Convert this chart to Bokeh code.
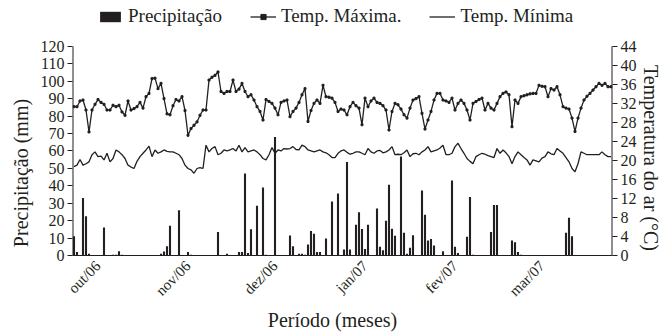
from math import pi
from bokeh.plotting import figure
from bokeh.models import Range1d, LinearAxis, FixedTicker, Legend, LegendItem
from bokeh.embed import file_html
from bokeh.resources import INLINE

# Daily series (day index 0..179)
precip = [
    11, 2, 0, 33, 22.5, 1, 0, 0, 0, 0,
    16, 0, 0, 0.5, 0.5, 2.5, 0.5, 0, 0, 0,
    0, 0, 0, 0, 0, 0, 0, 0, 0, 1,
    2.3, 5.3, 17, 0, 0, 26, 0, 0, 2, 0.5,
    0, 0, 0, 0, 0, 0, 0, 0, 13.5, 0,
    0, 1, 0, 0, 0, 2, 2, 47, 1.5, 15,
    0, 28.5, 0, 39, 0.5, 0.3, 0, 68, 0, 0,
    0, 0, 11.5, 5.3, 0, 1, 1, 0.5, 6.3, 14,
    12.5, 2, 2, 0, 9.7, 0, 31, 0, 35.5, 0,
    3.4, 53.7, 3.4, 0, 17.7, 24.8, 15.2, 3.8, 17.7, 0,
    0, 26.9, 5, 3, 20, 40.6, 15.4, 11.4, 0, 56.8,
    13, 1, 4.4, 11.6, 0, 0, 37.3, 23.4, 8.6, 9.5,
    5.7, 0, 0, 2.5, 0, 0, 43, 5, 1.5, 0,
    0, 10.7, 33.5, 0.5, 0, 0, 0, 0, 0, 13.5,
    29, 29, 0, 0, 0, 0, 8.6, 7.6, 2, 0.5,
    0, 0, 0, 0, 0.3, 0, 0, 0, 0, 0,
    0, 0, 0, 0, 13, 21.7, 11, 0, 0, 0,
    0, 0, 0.3, 0, 0, 0, 0, 0, 0, 0,
]

tmax = [
    31.3, 31.3, 32.5, 32.7, 30.6, 26.0, 30.6, 31.8, 32.8, 32.2,
    31.8, 30.6, 30.6, 31.6, 31.3, 31.6, 30.2, 29.5, 32.5, 30.6,
    30.9, 31.3, 32.2, 31.0, 33.4, 34.1, 37.2, 37.3, 35.1, 36.2,
    33.0, 29.8, 29.6, 31.5, 32.8, 32.5, 33.4, 30.5, 25.3, 26.7,
    27.4, 28.1, 29.5, 30.6, 30.6, 36.9, 37.5, 37.9, 38.6, 34.5,
    34.1, 34.5, 34.5, 36.9, 34.5, 35.0, 36.2, 34.5, 33.4, 33.8,
    32.7, 31.3, 30.3, 28.5, 32.8, 32.4, 32.0, 31.0, 29.6, 32.2,
    32.5, 32.7, 29.2, 30.3, 31.0, 32.2, 33.8, 35.1, 28.2, 30.5,
    32.0, 32.7, 32.0, 35.8, 33.4, 33.3, 33.1, 32.2, 30.3, 30.8,
    30.6, 29.6, 31.3, 32.2, 31.5, 31.0, 27.5, 33.1, 31.3, 32.5,
    33.1, 32.2, 32.0, 31.5, 30.6, 26.4, 30.3, 32.0, 31.7, 30.8,
    29.6, 28.9, 31.0, 32.7, 33.0, 33.4, 29.9, 26.6, 28.5, 30.3,
    32.7, 34.1, 34.1, 32.7, 32.5, 32.2, 33.1, 30.6, 32.0, 32.7,
    32.0, 30.6, 28.5, 32.0, 32.4, 32.8, 33.1, 30.6, 32.0, 31.0,
    30.6, 32.0, 33.4, 34.1, 34.4, 33.8, 27.1, 32.7, 32.0, 33.4,
    33.6, 33.8, 34.0, 34.1, 34.1, 35.8, 35.6, 35.5, 33.4, 35.1,
    34.8, 35.5, 33.8, 31.3, 31.0, 30.8, 28.9, 26.1, 28.9, 31.0,
    32.7, 33.5, 34.1, 34.8, 35.5, 36.2, 35.8, 36.2, 35.5, 35.5,
]

tmin = [
    18.7, 19.0, 20.2, 19.0, 19.3, 19.7, 21.2, 21.8, 20.8, 20.9,
    20.1, 21.5, 19.7, 20.4, 22.2, 21.8, 21.2, 20.4, 19.0, 18.6,
    18.3, 19.8, 20.8, 21.5, 22.2, 23.0, 20.8, 22.2, 21.5, 21.8,
    22.2, 21.9, 21.8, 21.8, 21.5, 21.2, 20.4, 19.0, 18.3, 18.0,
    17.3, 18.3, 18.5, 18.3, 23.2, 21.8, 22.5, 22.9, 21.2, 21.5,
    22.2, 22.0, 22.2, 22.5, 22.0, 23.2, 21.8, 22.7, 21.8, 22.0,
    22.2, 21.8, 21.2, 20.4, 20.1, 21.2, 22.7, 21.5, 22.2, 22.0,
    22.5, 22.4, 22.5, 22.9, 22.3, 22.2, 23.2, 22.9, 22.2, 22.0,
    21.8, 22.0, 22.2, 21.8, 21.6, 21.2, 20.6, 20.6, 21.5, 22.0,
    22.2, 21.7, 21.3, 21.5, 21.8, 21.8, 21.5, 21.2, 22.5, 21.8,
    21.5, 22.0, 22.1, 21.6, 21.8, 22.2, 22.9, 21.2, 21.3, 21.2,
    21.6, 22.2, 20.8, 21.4, 21.5, 21.2, 21.8, 22.2, 22.9, 21.8,
    22.0, 22.2, 22.6, 23.2, 21.2, 21.2, 21.5, 22.9, 23.6, 22.5,
    21.5, 20.4, 19.8, 19.3, 20.8, 21.2, 21.5, 21.3, 21.0, 20.8,
    20.6, 22.5, 21.5, 22.2, 21.6, 20.8, 19.3, 20.8, 21.8, 21.2,
    20.6, 20.1, 19.0, 20.1, 19.9, 19.7, 20.5, 20.8, 21.8, 21.4,
    21.2, 22.5, 22.0, 21.5, 20.6, 19.7, 18.3, 17.6, 19.3, 21.8,
    21.5, 21.2, 21.2, 21.2, 21.2, 21.2, 21.8, 21.2, 20.8, 20.8,
]

days = list(range(len(tmax)))

month_ticks = [8, 38, 67, 97, 127, 156]
month_labels = ["out/06", "nov/06", "dez/06", "jan/07", "fev/07", "mar/07"]
left_ticks = list(range(0, 121, 10))
right_ticks = list(range(0, 45, 4))

FONT = "Liberation Serif"
INK = "#231f20"
NB = "\u00a0"

# frame spans the full height above the x axis; the value scale keeps
# 0..120 mm (0..44 C) on the lower 210 px, leaving room for the legend on top
FRAME_H = 256
DATA_H = 210
ymax = left_ticks[-1] * FRAME_H / DATA_H
tmax_end = right_ticks[-1] * FRAME_H / DATA_H

p = figure(width=664, height=333, output_backend="svg", toolbar_location=None,
           x_range=Range1d(-0.5, 179.5), y_range=Range1d(0, ymax),
           min_border_left=72, min_border_right=52, min_border_top=0,
           min_border_bottom=77)
p.extra_y_ranges = {"temp": Range1d(0, tmax_end)}
p.outline_line_color = None
p.grid.visible = False
p.background_fill_color = "white"

bars = p.vbar(x=days, top=precip, width=0.7, fill_color=INK, line_color=None)
lmax = p.line(days, tmax, y_range_name="temp", line_color=INK, line_width=1.3)
smax = p.scatter(days, tmax, y_range_name="temp", marker="square", size=2,
                 fill_color=INK, line_color=INK)
lmin = p.line(days, tmin, y_range_name="temp", line_color=INK, line_width=1.3)

# vertical axis lines only over the 0..120 span
x0, x1 = p.x_range.start, p.x_range.end
p.segment(x0=[x0, x1], y0=[0, 0], x1=[x0, x1], y1=[left_ticks[-1]] * 2,
          line_color=INK, line_width=2)

# x axis
xa = p.xaxis[0]
xa.ticker = FixedTicker(ticks=month_ticks)
xa.major_label_overrides = {t: l for t, l in zip(month_ticks, month_labels)}
xa.major_label_orientation = pi / 4
xa.major_tick_out = 0
xa.major_tick_in = 0
xa.minor_tick_out = 0
xa.minor_tick_in = 0
xa.axis_label = "Período (meses)" + NB * 4
xa.major_label_standoff = 8
xa.axis_label_standoff = 1

# left axis
ya = p.yaxis[0]
ya.ticker = FixedTicker(ticks=left_ticks)
ya.axis_label = "Precipitação (mm)" + NB * 18
ya.major_label_standoff = 3
ya.axis_label_standoff = 6

# right axis
ra = LinearAxis(y_range_name="temp", ticker=FixedTicker(ticks=right_ticks),
                axis_label=NB * 12 + "Temperatura do ar (°C)")
ra.major_label_standoff = 3
ra.axis_label_standoff = 0
p.add_layout(ra, "right")

for ax in [xa, ya, ra]:
    ax.axis_line_color = INK
    ax.axis_line_width = 1
    ax.major_tick_line_color = INK
    ax.minor_tick_line_color = None
    ax.major_label_text_font = FONT
    ax.major_label_text_font_size = "16px"
    ax.major_label_text_color = INK
    ax.axis_label_text_font = FONT
    ax.axis_label_text_font_size = "20px"
    ax.axis_label_text_font_style = "normal"
    ax.axis_label_text_color = INK
xa.major_label_text_font_size = "15px"
for ax in [ya, ra]:
    ax.axis_line_color = None
    ax.major_tick_out = 5
    ax.major_tick_in = 0

legend = Legend(items=[
    LegendItem(label="Precipitação", renderers=[bars]),
    LegendItem(label="Temp. Máxima.", renderers=[lmax, smax]),
    LegendItem(label="Temp. Mínima", renderers=[lmin]),
], orientation="horizontal", location=(25, 228))
legend.border_line_color = None
legend.background_fill_alpha = 0
legend.padding = 0
legend.margin = 0
legend.spacing = 28
legend.glyph_width = 26
legend.glyph_height = 13
legend.label_standoff = 5
legend.label_height = 18
legend.label_text_font = FONT
legend.label_text_font_size = "19px"
legend.label_text_color = INK
p.add_layout(legend)

open("out.html", "w").write(file_html(p, INLINE))
